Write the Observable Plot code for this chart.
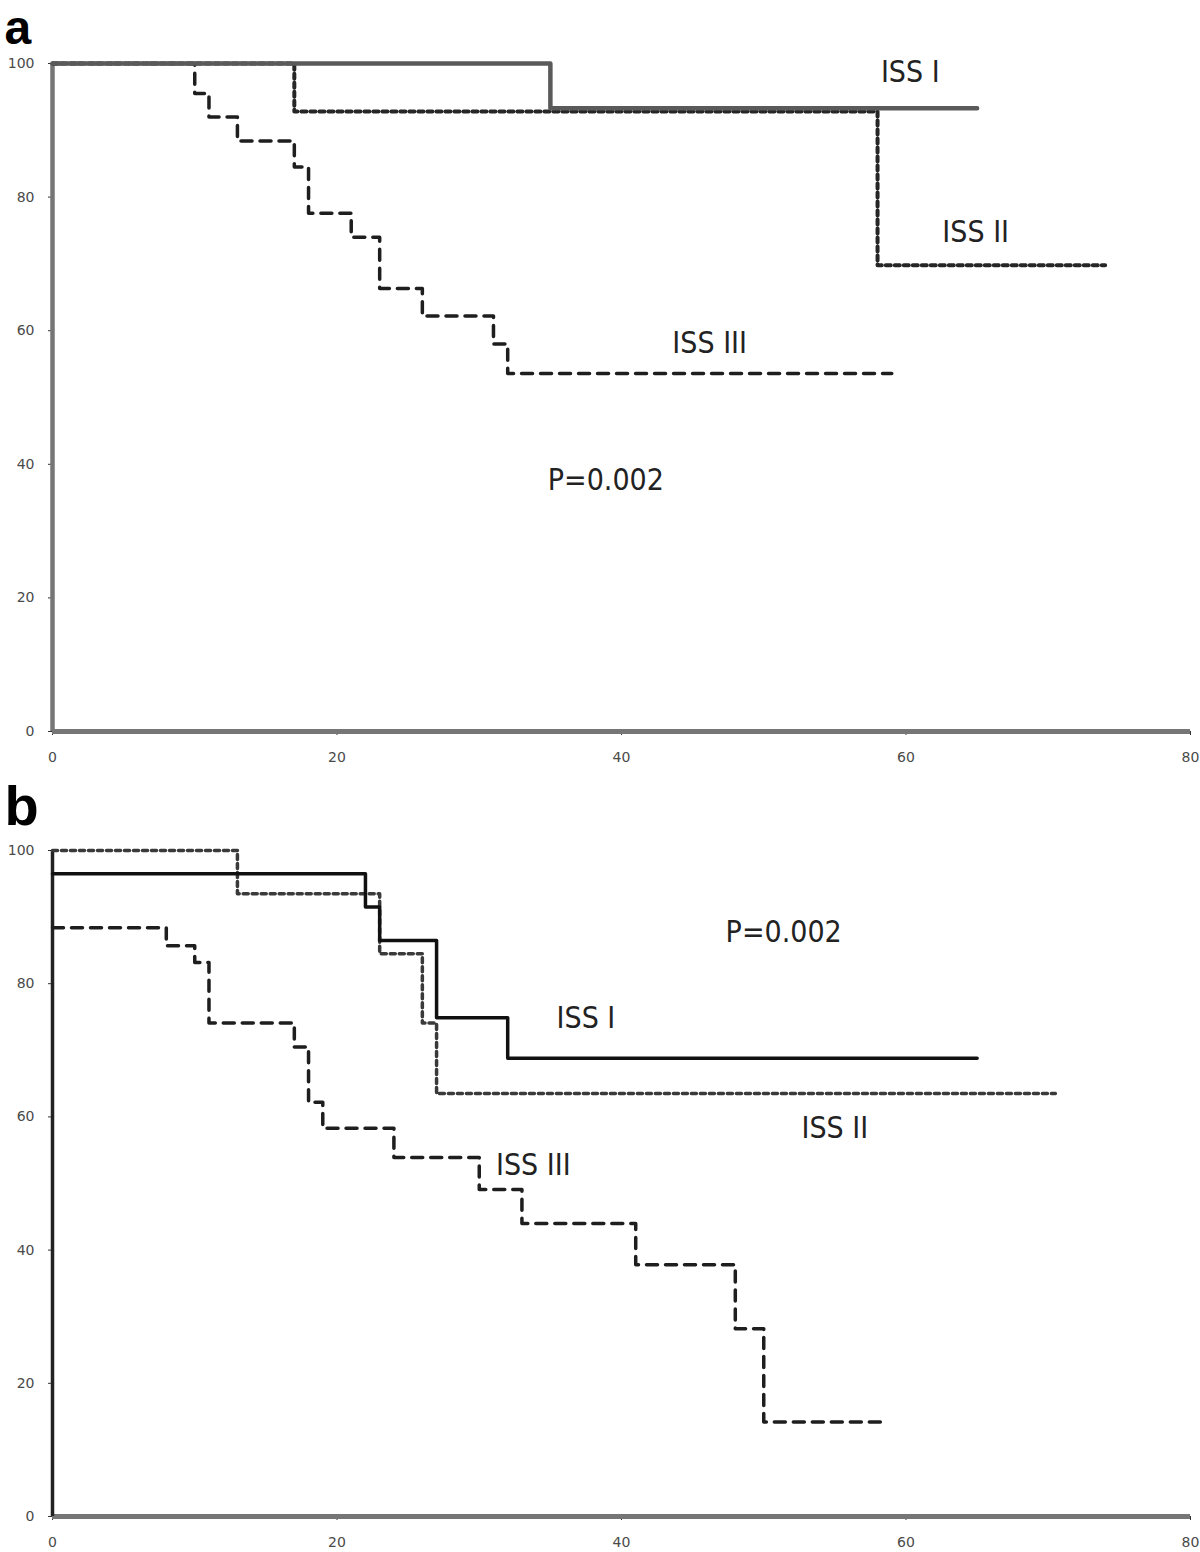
<!DOCTYPE html>
<html><head><meta charset="utf-8">
<script src="https://cdn.jsdelivr.net/npm/d3@7"></script>
<script src="https://cdn.jsdelivr.net/npm/@observablehq/plot@0.6"></script>
<style>
html,body{margin:0;padding:0;background:#fff;}
#chart{width:1200px;}
#chart svg{display:block;overflow:visible;}
</style></head><body><div id="chart"></div>
<script>
// ---- axis ticks ----
const xTicks = [0, 20, 40, 60, 80];
const yTicks = [0, 20, 40, 60, 80, 100];

// ---- panel a : survival (%) vs months ----
const a_ISS1_t = [0, 35, 65];
const a_ISS1_s = [100, 93.3, 93.3];
const a_ISS2_t = [0, 17, 58, 74];
const a_ISS2_s = [100, 92.8, 69.8, 69.8];
const a_ISS3_t = [0, 10, 11, 13, 17, 18, 21, 23, 26, 31, 32, 59];
const a_ISS3_s = [100, 95.5, 92, 88.4, 84.5, 77.6, 74, 66.3, 62.2, 58, 53.6, 53.6];

// ---- panel b ----
const b_ISS1_t = [0, 22, 23, 27, 32, 65];
const b_ISS1_s = [96.5, 91.5, 86.5, 74.9, 68.8, 68.8];
const b_ISS2_t = [0, 13, 23, 26, 27, 70.5];
const b_ISS2_s = [100, 93.5, 84.5, 74.1, 63.5, 63.5];
const b_ISS3_t = [0, 8, 10, 11, 17, 18, 19, 24, 30, 33, 41, 48, 50, 58.7];
const b_ISS3_s = [88.4, 85.7, 83.2, 74.1, 70.5, 62.2, 58.3, 53.9, 49.1, 44, 37.8, 28.2, 14.2, 14.2];

// ---- annotations (text, data-space anchor) ----
const a_labels = ["ISS I", "ISS II", "ISS III", "P=0.002"];
const a_labelX = [60.3, 64.9, 46.2, 38.9];
const a_labelY = [98.7, 74.7, 58.1, 37.6];
const b_labels = ["P=0.002", "ISS I", "ISS II", "ISS III"];
const b_labelX = [51.4, 37.5, 55.0, 33.8];
const b_labelY = [87.7, 74.8, 58.3, 52.7];

const toRows = (t, s) => t.map((x, i) => ({x, y: s[i]}));
const labelRows = (l, xs, ys) => l.map((text, i) => ({text, x: xs[i], y: ys[i]}));

const labelFont = "'DejaVu Sans Condensed', 'DejaVu Sans', sans-serif";

function panel({letter, letterSize, letterDy, height, marginTop, marginBottom, s1, s2, s3, labels, leftAxisColor, leftAxisWidth, solidColor, solidWidth, dotColor, dotWidth}) {
  return Plot.plot({
    width: 1200, height, marginTop, marginBottom, marginLeft: 52, marginRight: 10,
    x: {domain: [0, 80]},
    y: {domain: [0, 100]},
    style: {background: "#fff", overflow: "visible"},
    marks: [
      Plot.axisX(xTicks, {tickSize: 4, tickPadding: 17, label: null, fontSize: 14, fill: "#4a4a4a", stroke: "#333", fontFamily: "'DejaVu Sans', sans-serif"}),
      Plot.axisY(yTicks, {tickSize: 4, tickPadding: 14, label: null, fontSize: 14, fill: "#4a4a4a", stroke: "#333", fontFamily: "'DejaVu Sans', sans-serif"}),
      Plot.ruleY([0], {stroke: "#767676", strokeWidth: 5}),
      Plot.ruleX([0], {stroke: leftAxisColor, strokeWidth: leftAxisWidth}),
      Plot.line(s3, {x: "x", y: "y", curve: "step-after", stroke: "#1e1e1e", strokeWidth: 3.5, strokeDasharray: "11,8"}),
      Plot.line(s2, {x: "x", y: "y", curve: "step-after", stroke: dotColor, strokeWidth: dotWidth, strokeDasharray: "5,4"}),
      Plot.line(s1, {x: "x", y: "y", curve: "step-after", stroke: solidColor, strokeWidth: solidWidth}),
      Plot.text(labels, {x: "x", y: "y", text: "text", fontSize: 30, fontFamily: labelFont, fill: "#222", lineAnchor: "middle"}),
      Plot.text([letter], {frameAnchor: "top-left", textAnchor: "start", lineAnchor: "middle", dx: -48, dy: letterDy, fontSize: letterSize, fontWeight: "bold", fontFamily: "'Liberation Sans', Arial, sans-serif", fill: "#000"})
    ]
  });
}

const chart = document.getElementById("chart");
chart.append(panel({
  letter: "a", letterSize: 48, letterDy: -34.8, height: 790, marginTop: 63, marginBottom: 59,
  s1: toRows(a_ISS1_t, a_ISS1_s), s2: toRows(a_ISS2_t, a_ISS2_s), s3: toRows(a_ISS3_t, a_ISS3_s),
  labels: labelRows(a_labels, a_labelX, a_labelY),
  leftAxisColor: "#767676", leftAxisWidth: 4.5,
  solidColor: "#5a5a5a", solidWidth: 4.5, dotColor: "#262626", dotWidth: 4
}));
chart.append(panel({
  letter: "b", letterSize: 56, letterDy: -43, height: 762, marginTop: 60, marginBottom: 36,
  s1: toRows(b_ISS1_t, b_ISS1_s), s2: toRows(b_ISS2_t, b_ISS2_s), s3: toRows(b_ISS3_t, b_ISS3_s),
  labels: labelRows(b_labels, b_labelX, b_labelY),
  leftAxisColor: "#222", leftAxisWidth: 3.5,
  solidColor: "#111", solidWidth: 3.5, dotColor: "#3a3a3a", dotWidth: 3.5
}));
</script>
</body></html>
